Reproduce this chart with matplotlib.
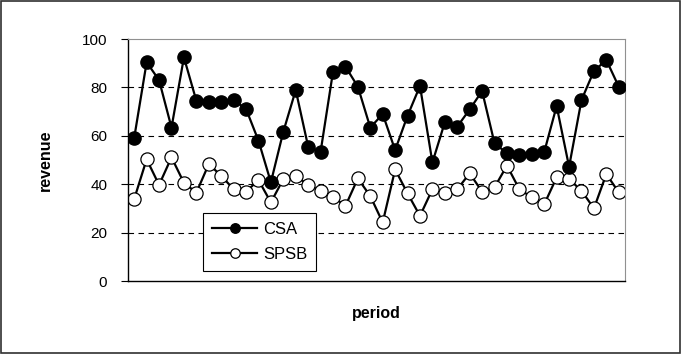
import matplotlib.pyplot as plt
import numpy as np
from matplotlib.patches import Rectangle

plt.rcParams["font.family"] = ["Liberation Sans", "DejaVu Sans"]

period = np.arange(1, 41)
csa = [59.2, 90.4, 83.0, 63.4, 92.4, 74.5, 73.8, 74.1, 74.8, 71.1,
       58.0, 40.8, 61.7, 78.9, 55.5, 53.4, 86.5, 88.6, 80.3, 63.4,
       69.0, 54.1, 68.3, 80.6, 49.0, 65.6, 63.8, 70.9, 78.5, 56.9,
       52.8, 52.1, 52.5, 53.3, 72.3, 47.2, 74.8, 86.8, 91.3, 80.3]
spsb = [33.9, 50.3, 39.7, 51.1, 40.6, 36.5, 48.3, 43.5, 37.9, 36.9,
        41.7, 32.5, 42.1, 43.5, 39.7, 37.2, 34.8, 31.0, 42.4, 35.1,
        24.2, 46.1, 36.2, 26.9, 37.9, 36.5, 37.9, 44.5, 36.9, 38.7,
        47.7, 37.9, 34.6, 31.7, 42.8, 42.1, 37.3, 30.0, 44.2, 36.6]
y_ticks = [0, 20, 40, 60, 80, 100]

fig = plt.figure(figsize=(6.82, 3.54), dpi=100)
ax = fig.add_axes([0.1877, 0.2062, 0.7287, 0.6836])

for y in y_ticks[1:-1]:
    ax.axhline(y, color="black", lw=0.8, ls=(0, (5, 4)), zorder=1)

ax.plot(period, csa, color="black", lw=1.6, marker="o", ms=9.5,
        mfc="black", mec="black", label="CSA", zorder=3)
ax.plot(period, spsb, color="black", lw=1.6, marker="o", ms=9.5,
        mfc="white", mec="black", mew=0.9, label="SPSB", zorder=2)

ax.set_xlim(0.5, 40.5)
ax.set_ylim(0, 100)
ax.set_yticks(y_ticks)
ax.set_xticks([])
ax.tick_params(axis="y", direction="out", length=5, width=0.8, labelsize=11, pad=10)

for side in ("left", "bottom"):
    ax.spines[side].set_color("black")
    ax.spines[side].set_linewidth(1.0)
for side in ("top", "right"):
    ax.spines[side].set_color("#909090")
    ax.spines[side].set_linewidth(0.8)

ax.set_ylabel("revenue", fontsize=11.5, fontweight="bold")
ax.set_xlabel("period", fontsize=11.5, fontweight="bold")
ax.yaxis.set_label_coords(-0.151, 0.5)
ax.xaxis.set_label_coords(0.5, -0.103)

leg = ax.legend(loc="upper left", bbox_to_anchor=(203 / 682, 1 - 213 / 354),
                bbox_transform=fig.transFigure, fontsize=12, frameon=True,
                fancybox=False, edgecolor="black", framealpha=1, markerscale=0.72,
                handlelength=2.7, handletextpad=0.35, borderpad=0.55,
                labelspacing=0.6, borderaxespad=0)
leg.get_frame().set_linewidth(0.8)

fig.patches.append(Rectangle((0.002, 0.003), 0.995, 0.993, transform=fig.transFigure,
                             fill=False, edgecolor="#303030", lw=1.2))

fig.savefig("out.png", dpi=100)
